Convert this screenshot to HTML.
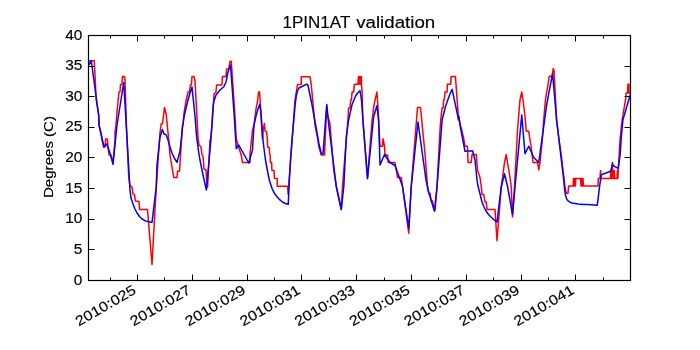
<!DOCTYPE html>
<html><head><meta charset="utf-8"><style>
html,body{margin:0;padding:0;background:#fff;}
svg{display:block;will-change:transform;}
text{font-family:"Liberation Sans",sans-serif;fill:#000;stroke:#000;stroke-width:0.15px;}
</style></head><body>
<svg width="700" height="350" viewBox="0 0 700 350">
<rect width="700" height="350" fill="#fff"/>
<defs><clipPath id="c"><rect x="88.0" y="35.0" width="542.0" height="245.0"/></clipPath></defs>
<g clip-path="url(#c)" fill="none" stroke-width="1.5" stroke-linejoin="round">
<polyline stroke="#ff0000" points="88.75,60.75 94.25,60.75 96.25,100 98.75,115 99,125 101,133 102,139 103.6,147 105,147 105.6,139 107.4,139 108,147 109,155 111,155 113,163 115,140 115,132.5 116,125 117,112 118,102 119,92 120,92 120.5,84.5 122,84.5 122.4,76.6 124.4,76.6 125,80 126.4,125 128.75,177.5 130,186 132,187 133,194 134.4,194.4 135.4,201 139,201.6 139.6,209.6 147.5,209.6 152,264.5 156.25,187 160,132.5 161.25,123.75 162.5,123.75 164.5,107.5 166.25,115 168.75,140 170,155 171.25,162.5 172.5,170 173.75,177.5 177,177.5 177.5,171.25 179.5,171.25 182.5,125 183,125 184,113 185,107 186,101 187.4,95 188,92 189.4,92 190.4,85 191.4,85 192,76.6 194,76.6 195,81 198,137 199,145 201,147 202,155 203,156 204,169 206,170 207,185 207.6,187 210,140 210.5,140 212,125 214,94 216,92 216.6,85 222,85 222.4,76.6 226,76.6 226.6,69 228.75,69 228.75,68.75 230,61.25 231.25,61.25 235,116.25 236.25,138.75 238.75,147.5 241.25,155 242.5,162.5 250,162.5 250,153.75 252.5,130 254,125 256,109 257.6,101 258.6,92 259.6,92 260.2,101 262.4,139 263.2,130 264.4,123.4 265,131 266.5,131.4 267.3,139 267.6,147 269.3,147.7 269.6,154 270.1,155 270.4,162.3 271.6,162.6 271.9,170.3 274.1,170.6 274.4,178.3 277.3,178.6 277.3,186.3 287.6,186.3 288.1,194.3 288.7,186 288.75,186.25 295,100 297.5,84.5 301.25,84.5 301.25,76.75 310,76.75 311.25,84.5 315,125 317.5,137.5 318.75,146.25 321.25,155 324.5,155 326.75,106 327.5,115 330,123.75 331.25,140 333.75,170 336.25,186.25 341.25,209.5 342.5,186.25 342.5,186.25 347.9,120 348.6,107.9 350,107.9 350.7,100 351.4,100 352.1,92.1 353.6,92.1 354.3,84.3 357.9,84.3 358.6,76.4 359,84.3 359.6,76.4 360.2,84.3 360.8,76.4 361.4,76.4 361.4,84 362.1,91.4 362.9,120 367.5,178 372.1,120 373.6,107.9 375,100 376.9,92.1 377.9,105.7 378.6,120 380,146.25 382.5,146.25 383,138.75 384.5,146.25 385,155 387.5,155 388.25,162.5 395,162.5 396.25,170 397.5,177.5 401.25,177.5 402.5,186.25 408.75,233.25 411.25,186.25 417.5,107.5 420.5,107.5 425,153.75 427.5,186.25 428.75,193.25 430,193.25 431.25,200.75 432.5,200.75 433.75,208.25 435,210.75 437,187 440,130 440.7,120 442.1,107.9 443.1,107.9 443.6,100 444.3,100 445,92.1 447.1,92.1 447.4,84.3 450.7,84.3 451.1,76.4 455.4,76.4 458.6,120 458.75,116.25 460,123.75 462,131.25 463.75,138.75 465,146.25 467.5,146.25 468,162.5 471.25,162.5 472,154.5 476.25,154.5 477.5,170 480,177.5 481.25,186.25 482,194.5 483.75,194.5 485,202 486.25,202 487,209.5 495,209.5 497,240.75 501.25,187 504.5,162.5 506.25,154.5 507.5,162.5 510,177.5 511.25,187 512.5,217 514.5,187 517.5,130 520,100 521.75,92 523,100 525,116.25 526.25,131.25 528.75,131.25 530,140 531.25,147.5 533,162.5 537.5,162.5 538.75,170 540,162.5 542.5,137.5 543.7,120 545.4,100.3 546.6,92.6 548,84.9 549.2,76.3 550.6,76.3 552,76.3 553.2,68.6 554,70.3 556.6,120 558.75,137.5 561.25,155 565,187 566.25,193.25 568,193.25 568.6,186 573.2,186 573.4,178.6 573.8,186 574.2,178.6 574.6,186 575,178.6 575.4,186 575.8,178.6 580.6,178.6 581,186 581.4,178.6 581.8,186 582.2,178.6 582.6,186 583,178.6 583.4,186 583.7,186 598,186 598.3,178.6 600,178.6 600.5,170.4 601,178.6 610.4,178.6 610.8,170.4 611.2,178.6 611.6,170.4 612,178.6 612.4,162.4 613,178.6 613.4,170.4 613.8,178.6 614.2,170.4 614.7,178.6 617,178.6 617.4,170.4 617.8,178.6 618.3,170.4 620,140 622.1,120 625.7,98.6 626.1,92.9 627.6,92.9 627.9,84.3 629,84.3 629,92.9 630,92.9 630.5,92.9"/>
<polyline stroke="#0000ff" points="88.75,65 91.25,60.75 98.75,116.25 99,125 101,134 104,147 106.4,144 108,147 110.5,155 113,164.4 117,125 123.75,82.5 130,190 131,198 133,204 135,209 137,213 139.5,216.5 142,219 145,220.7 148,221.6 152,222.4 156.25,187 157,165 160,137 162.4,129.4 164,134 166,134.6 168,140 170,147 172,153 174.5,158.5 177,162.4 180,151 182.5,127.5 182.5,127.5 184,117 186,108 188,100 190,93 192,87 195,116.25 196.3,133 197,140 198.5,151 200,160 203,175 206.4,190 210.9,140 210.9,140 212,125 213,107 214,101 216,95 220,90 224,86.5 226,82 228,72 230.5,65 234.25,116.25 236.25,148.75 238.75,145 248.75,163 252.5,150 254,125 256,116 258,109 259.8,104.3 261,113 262,127 263,140 264.2,150 265.5,160 267.3,170 269.3,180 272.1,188.6 275,194.3 279.6,199.7 282.5,202 285.5,203.5 288.25,204.3 289.3,180 290.5,160 292,140 293.7,121.4 295,106 296.3,95.7 297.5,91 298.9,88 302,86.5 306.6,84.1 308,85.4 310,95 311.7,103.4 314,116 316.8,131.7 319,144 321.25,153.75 323,153.75 326.75,104.5 328.75,125 336.25,186.25 341.25,209.5 343.75,187 346.25,137.5 348.6,120 352.1,104.3 355.7,95.7 358,92.5 360,90.7 361.5,100 362.9,120 367.5,178.75 373.6,117 376.9,105.7 378.6,120 380,165 384.5,154.5 390,162.5 395,165.5 402.5,186.25 408.75,228.25 411.25,186.25 418,122 426,180 427.5,187 428,190 431,200 434.4,211 437,187 442.1,120 445.7,105.7 449.3,95.7 452.1,89.3 455,102.9 458.6,120 458.75,116.25 460,125 465,151.25 472.5,150.75 475,160 477,180 478,186 479,190 480.5,196 482,202 484,207 486,211 488.5,214.5 491,217 494,219.8 497,222 501.25,187 504.5,173.75 507.5,186.25 512.5,214.5 515,187 521.75,115 525,153.75 528.75,146.25 533.75,157.5 538.75,162.5 544.6,120 546.5,106 548.9,92.6 552.6,73.7 556.6,120 563.75,180 564.5,189 565.5,195 566.5,198.6 568,200.8 570,202.2 572,203 575,203.6 578,204 583,204.4 588,204.6 597.3,205.2 599.5,187 601.3,174.7 610.7,171.3 612.4,164.1 614.4,166.4 618.1,168.4 620.1,155 621.25,137.5 622.9,120 630,95.7 631,93"/>
</g>
<path d="M137.5,280.5v-6.0M137.5,35.5v6.0M192.5,280.5v-6.0M192.5,35.5v6.0M247.5,280.5v-6.0M247.5,35.5v6.0M301.5,280.5v-6.0M301.5,35.5v6.0M356.5,280.5v-6.0M356.5,35.5v6.0M411.5,280.5v-6.0M411.5,35.5v6.0M466.5,280.5v-6.0M466.5,35.5v6.0M521.5,280.5v-6.0M521.5,35.5v6.0M575.5,280.5v-6.0M575.5,35.5v6.0M110.5,280.5v-3.0M110.5,35.5v3.0M164.5,280.5v-3.0M164.5,35.5v3.0M219.5,280.5v-3.0M219.5,35.5v3.0M274.5,280.5v-3.0M274.5,35.5v3.0M329.5,280.5v-3.0M329.5,35.5v3.0M384.5,280.5v-3.0M384.5,35.5v3.0M438.5,280.5v-3.0M438.5,35.5v3.0M493.5,280.5v-3.0M493.5,35.5v3.0M548.5,280.5v-3.0M548.5,35.5v3.0M603.5,280.5v-3.0M603.5,35.5v3.0M88.5,280.5h6.0M630.5,280.5h-6.0M88.5,249.5h6.0M630.5,249.5h-6.0M88.5,219.5h6.0M630.5,219.5h-6.0M88.5,188.5h6.0M630.5,188.5h-6.0M88.5,157.5h6.0M630.5,157.5h-6.0M88.5,127.5h6.0M630.5,127.5h-6.0M88.5,96.5h6.0M630.5,96.5h-6.0M88.5,66.5h6.0M630.5,66.5h-6.0M88.5,35.5h6.0M630.5,35.5h-6.0" stroke="#000" stroke-width="1" fill="none"/>
<rect x="88.5" y="35.5" width="542" height="245" fill="none" stroke="#000" stroke-width="1.2"/>
<g font-size="14.0"><text transform="translate(82.4,284.50) scale(1.1,1)" text-anchor="end">0</text><text transform="translate(82.4,253.88) scale(1.1,1)" text-anchor="end">5</text><text transform="translate(82.4,223.25) scale(1.1,1)" text-anchor="end">10</text><text transform="translate(82.4,192.62) scale(1.1,1)" text-anchor="end">15</text><text transform="translate(82.4,162.00) scale(1.1,1)" text-anchor="end">20</text><text transform="translate(82.4,131.38) scale(1.1,1)" text-anchor="end">25</text><text transform="translate(82.4,100.75) scale(1.1,1)" text-anchor="end">30</text><text transform="translate(82.4,70.12) scale(1.1,1)" text-anchor="end">35</text><text transform="translate(82.4,39.50) scale(1.1,1)" text-anchor="end">40</text></g><text transform="translate(131.90,284.2) rotate(-30) scale(1.15,1)" y="10.0" text-anchor="end" font-size="14.0">2010:025</text><text transform="translate(186.70,284.2) rotate(-30) scale(1.15,1)" y="10.0" text-anchor="end" font-size="14.0">2010:027</text><text transform="translate(241.50,284.2) rotate(-30) scale(1.15,1)" y="10.0" text-anchor="end" font-size="14.0">2010:029</text><text transform="translate(296.30,284.2) rotate(-30) scale(1.15,1)" y="10.0" text-anchor="end" font-size="14.0">2010:031</text><text transform="translate(351.10,284.2) rotate(-30) scale(1.15,1)" y="10.0" text-anchor="end" font-size="14.0">2010:033</text><text transform="translate(405.90,284.2) rotate(-30) scale(1.15,1)" y="10.0" text-anchor="end" font-size="14.0">2010:035</text><text transform="translate(460.70,284.2) rotate(-30) scale(1.15,1)" y="10.0" text-anchor="end" font-size="14.0">2010:037</text><text transform="translate(515.50,284.2) rotate(-30) scale(1.15,1)" y="10.0" text-anchor="end" font-size="14.0">2010:039</text><text transform="translate(570.30,284.2) rotate(-30) scale(1.15,1)" y="10.0" text-anchor="end" font-size="14.0">2010:041</text>
<text transform="translate(282.5,27.9) scale(1.02,1)" font-size="16.7">1PIN1AT</text><text transform="translate(356.2,27.9) scale(1.12,1)" font-size="16.7">validation</text>
<text transform="translate(53.0,157.0) rotate(-90) scale(1.16,1)" font-size="13.0" text-anchor="middle">Degrees (C)</text>
</svg>
</body></html>
